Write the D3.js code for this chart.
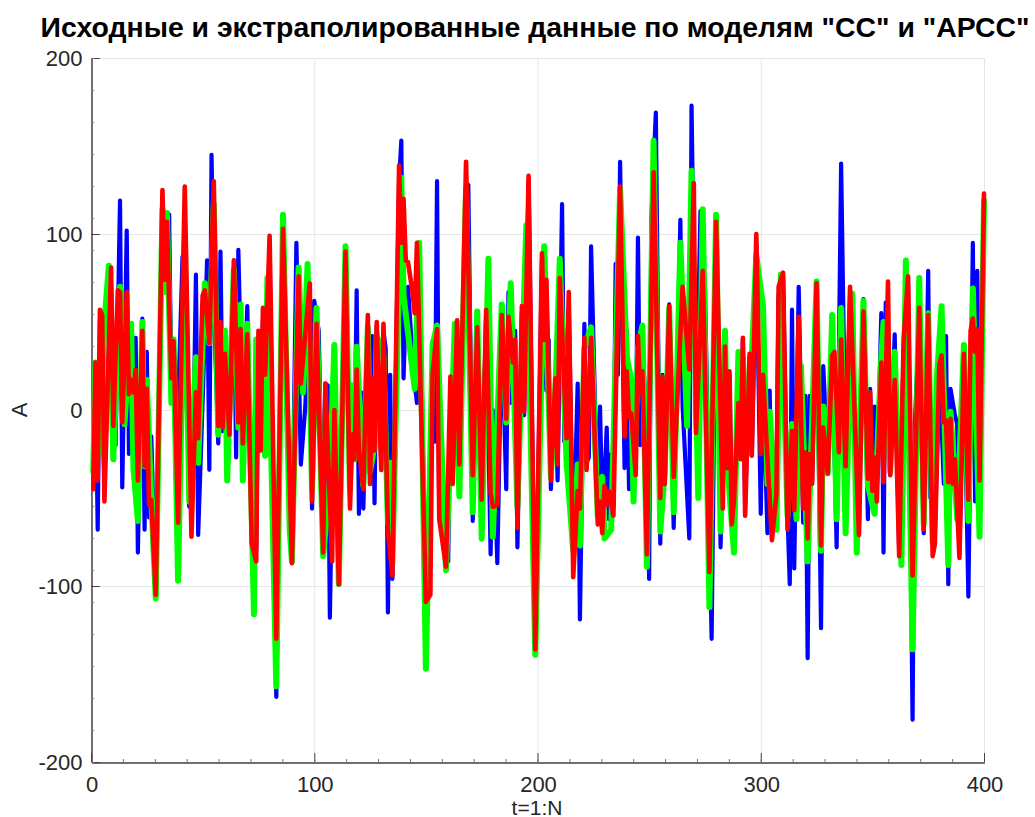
<!DOCTYPE html>
<html><head><meta charset="utf-8">
<script src="https://cdn.jsdelivr.net/npm/d3@7"></script>
<style>html,body{margin:0;padding:0;background:#fff}svg{display:block}text{font-family:"Liberation Sans",Arial,sans-serif}</style>
</head><body><div id="chart"></div>
<script>
const titleText='Исходные и экстраполированные данные по моделям "СС" и "АРСС"';
const xLabel='t=1:N', yLabel='A';
const xTicks=[0,100,200,300,400], yTicks=[-200,-100,0,100,200];
const blueT=[1,2,3,4,6,9,11,13,14,16,17,19,20,21,23,24,25,26,27,29,32,33,35,36,37,38,41,42,44,46,47,48,50,52,53,54,55,57,58,59,60,62,64,65,66,68,70,72,74,75,76,77,78,80,83,86,87,90,92,94,96,98,99,100,102,104,105,106,107,108,109,111,114,116,117,118,119,120,121,122,124,125,126,127,128,130,131,132,133,134,135,138,139,140,141,142,144,145,146,147,150,152,153,154,155,156,157,159,160,161,162,164,165,168,169,171,173,175,177,179,180,182,184,186,187,188,190,191,193,194,196,199,202,203,204,205,206,208,209,211,212,214,216,218,219,221,222,223,224,227,228,229,230,231,232,233,234,235,236,237,239,240,241,243,244,245,246,247,249,250,251,253,255,256,257,259,261,264,265,268,269,271,273,275,278,280,282,284,285,286,287,288,290,291,292,293,295,296,298,300,301,303,304,305,307,308,310,312,313,314,315,317,319,320,321,322,323,325,327,328,330,332,334,336,338,340,344,346,348,349,350,351,352,354,355,356,358,360,362,364,366,368,369,371,373,375,376,377,378,380,382,383,384,385,387,388,389,391,393,395,396,397,398,400];
const blue=[-30,27,-68,50,-40,70,-20,119,-44,102,-25,20,41,-81,52,-68,33,-61,-15,-105,115,70,111,12,38,-40,87,90,-55,-5,77,-71,5,85,-34,145,60,-19,90,-12,30,-14,80,-27,91,-20,59,-70,-80,40,-20,50,20,90,-163,105,24,-85,95,-31,2,70,-56,62,45,-80,15,14,-118,-40,0,-90,88,-50,-10,-25,68,-59,10,-56,50,-42,42,-53,48,-30,45,35,-115,20,-96,130,153,18,60,70,30,15,4,90,-105,-55,39,-18,130,-62,-20,-85,-86,15,-40,48,-30,120,128,-63,45,-50,55,-82,0,-87,50,-45,67,4,45,-78,55,-3,130,-136,85,45,11,40,-45,15,-40,117,-18,60,-80,15,-119,49,-30,-27,93,-60,2,-55,-40,-10,-62,-25,-55,83,20,141,-33,45,-45,-40,-30,98,-20,30,0,-96,109,169,-76,20,-40,60,-67,108,2,-73,173,-10,113,70,-130,100,-78,35,-30,20,-60,-50,5,-25,40,-55,30,-25,95,-59,20,-70,11,-70,-45,65,75,-60,-99,57,-90,70,-64,8,-141,8,-40,70,-124,25,-30,35,-78,140,-30,65,-65,63,-62,12,-42,2,-45,55,-81,61,-35,43,-80,35,70,-176,-8,50,-70,79,-50,-19,-70,25,-42,42,-99,12,-3,-8,-80,30,-106,95,-52,79,-35,120];
const greenT=[1,2,4,6,8,10,13,15,18,19,21,23,24,25,27,29,32,33,34,36,37,39,42,44,47,48,51,53,55,57,60,61,64,66,67,68,70,73,74,78,79,83,86,89,90,93,95,97,99,101,104,107,109,111,114,116,117,118,119,122,124,125,127,128,131,133,134,135,139,140,145,147,150,153,155,159,163,165,168,171,173,175,178,180,184,186,188,191,195,199,203,206,208,210,213,216,218,219,221,224,227,229,230,233,237,240,242,243,245,247,249,252,255,257,259,261,264,267,269,272,274,277,280,282,284,285,288,290,292,294,296,298,301,303,304,307,309,312,314,316,318,321,325,327,328,330,332,334,336,338,341,343,346,348,351,354,355,358,360,363,365,368,371,373,375,377,379,381,384,385,388,391,393,395,398,400];
const green=[-35,27,-25,50,82,-28,70,-8,49,-33,-63,50,-32,17,-50,-107,114,67,112,4,40,-97,95,-52,30,-30,72,38,117,-14,45,-40,80,-10,60,-40,49,-116,40,-26,75,-157,111,-68,-86,81,10,83,-45,58,-83,-40,37,-99,93,-45,14,-28,36,-43,47,-35,-20,42,31,-64,-30,-87,132,65,12,95,-147,37,48,-91,49,-49,126,-58,56,-73,86,-72,60,-7,72,-55,105,-139,93,-38,10,86,-29,-80,-31,-77,35,47,-60,-38,-73,-68,126,30,17,-52,35,48,-89,153,-69,-35,58,-58,95,-9,136,-50,114,-112,111,-69,45,-30,-81,33,30,-25,30,88,59,-42,-1,-68,77,-60,-8,-62,25,-86,73,-80,2,-36,54,-62,58,-70,66,-81,62,-43,-59,30,50,-35,33,-88,85,-136,75,-65,55,-75,20,59,-88,-1,-62,37,-63,69,-72,119];
const redT=[1,2,3,4,5,6,9,10,12,13,14,16,17,18,19,20,21,23,24,25,26,27,29,32,33,34,36,37,39,42,45,47,48,50,51,53,55,57,58,59,60,62,64,66,67,68,70,72,74,75,76,77,78,80,83,86,90,93,94,98,99,101,104,105,108,109,111,114,116,117,118,119,120,122,124,125,126,127,128,130,131,133,135,138,139,140,141,142,144,145,146,150,152,153,155,156,159,161,162,164,165,168,171,173,175,177,179,180,182,184,186,187,189,190,191,193,194,196,199,202,203,204,206,208,209,210,213,214,216,218,219,221,222,224,227,228,229,230,231,232,234,237,239,240,241,242,244,245,246,247,249,252,255,256,257,259,261,265,268,270,271,274,277,280,283,284,285,286,287,288,290,291,292,293,295,296,298,300,301,303,305,307,308,310,312,314,315,317,319,320,321,322,323,325,327,328,330,332,333,335,336,338,340,344,346,348,349,350,351,352,354,355,357,358,360,362,364,366,368,371,373,375,377,378,380,381,382,383,384,385,386,387,389,391,393,394,395,396,397,398,400];
const red=[-45,27,-40,57,54,-52,81,-9,68,67,-7,67,9,17,10,23,-40,45,-32,12,-54,-51,-105,125,74,107,18,39,-64,127,-72,10,-16,65,68,38,130,-9,50,-10,32,-14,85,-7,46,-19,43,-76,-86,45,-23,58,20,99,-130,103,-87,76,15,72,-52,49,-81,15,-86,0,-99,90,-56,-14,-28,23,-22,-45,54,-42,18,-23,50,-34,49,-69,-94,139,95,120,85,84,67,55,95,-109,-105,20,46,-62,-89,19,-42,51,-31,141,-37,47,-51,57,-47,-55,-54,54,-5,53,27,40,-67,59,-1,133,-136,89,40,74,-40,18,-31,75,-16,67,-95,-46,-56,41,-34,41,-65,-52,-70,-43,-54,-46,-60,127,-15,22,-4,-2,-37,42,9,22,-82,135,-50,19,-42,59,-38,70,23,129,-13,79,-92,107,-56,36,-33,22,-65,-51,4,-28,41,-60,32,-26,100,-25,20,-28,-74,-48,70,78,-68,-12,-57,53,-56,-24,-73,-25,-42,72,-77,-10,-36,31,33,-24,40,-32,70,-71,56,-39,10,-46,-27,-52,27,-41,73,-37,17,-83,40,76,-94,58,-68,54,-83,-76,26,31,-7,-6,-41,-5,-42,-28,-84,32,-51,45,52,33,46,-40,123];

const W=1035,H=817,L=91,R=984,T=58,B=762;
const x=d3.scaleLinear().domain([0,400]).range([L,R]);
const y=d3.scaleLinear().domain([-200,200]).range([B,T]);
const xMinor=d3.range(1,28).map(i=>i*100/7);
const yMinor=d3.range(-11,12).map(i=>i*200/11);
const svg=d3.select('#chart').append('svg').attr('width',W).attr('height',H);
const gridC='#e6e6e6',axisC='#444',txt='#262626';
// grid
svg.append('g').selectAll('line').data(xTicks).join('line')
 .attr('x1',d=>x(d)+.5).attr('x2',d=>x(d)+.5).attr('y1',T).attr('y2',B).attr('stroke',gridC);
svg.append('g').selectAll('line').data(yTicks).join('line')
 .attr('x1',L).attr('x2',R).attr('y1',d=>y(d)+.5).attr('y2',d=>y(d)+.5).attr('stroke',gridC);
// axes
const gx=svg.append('g').attr('transform',`translate(0.5,${B+.5})`)
 .call(d3.axisBottom(x).tickValues(xTicks).tickFormat(d3.format('d')).tickSize(0).tickPadding(14));
const gy=svg.append('g').attr('transform',`translate(${L+.5},0.5)`)
 .call(d3.axisLeft(y).tickValues(yTicks).tickFormat(d=>String(d)).tickSize(0).tickPadding(9));
[gx,gy].forEach(g=>{g.selectAll('.domain').attr('stroke',axisC).attr('stroke-width',1.5);
 g.selectAll('text').attr('font-size',22).attr('fill',txt).attr('font-family','"Liberation Sans"');});
// major ticks inward
svg.append('g').selectAll('line').data(xTicks).join('line').attr('x1',d=>x(d)+.5).attr('x2',d=>x(d)+.5)
 .attr('y1',B).attr('y2',B-9).attr('stroke',axisC);
svg.append('g').selectAll('line').data(yTicks).join('line').attr('y1',d=>y(d)+.5).attr('y2',d=>y(d)+.5)
 .attr('x1',L).attr('x2',L+9).attr('stroke',axisC);
// minor ticks inward
svg.append('g').selectAll('line').data(xMinor).join('line').attr('x1',d=>x(d)+.5).attr('x2',d=>x(d)+.5)
 .attr('y1',B).attr('y2',B-3).attr('stroke','#777');
svg.append('g').selectAll('line').data(yMinor).join('line').attr('y1',d=>y(d)+.5).attr('y2',d=>y(d)+.5)
 .attr('x1',L).attr('x2',L+3).attr('stroke','#777');
// series
const series=[[blueT,blue,'#0000ff',4.2],[greenT,green,'#00ff00',6],[redT,red,'#ff0000',4.6]];
const line=d3.line().x(d=>x(d[0])).y(d=>y(d[1]));
svg.append('g').selectAll('path').data(series).join('path')
 .attr('d',s=>line(s[0].map((t,i)=>[t,s[1][i]])))
 .attr('fill','none').attr('stroke',s=>s[2]).attr('stroke-width',s=>s[3])
 .attr('stroke-linejoin','round').attr('stroke-linecap','round');
// labels
svg.append('text').attr('x',535).attr('y',37).attr('text-anchor','middle').attr('font-size',28.4).attr('font-weight','bold').attr('fill','#000').text(titleText);
svg.append('text').attr('x',537).attr('y',815).attr('text-anchor','middle').attr('font-size',21).attr('fill',txt).text(xLabel);
svg.append('text').attr('transform','translate(27,410) rotate(-90)').attr('text-anchor','middle').attr('font-size',22).attr('fill',txt).text(yLabel);
</script></body></html>
